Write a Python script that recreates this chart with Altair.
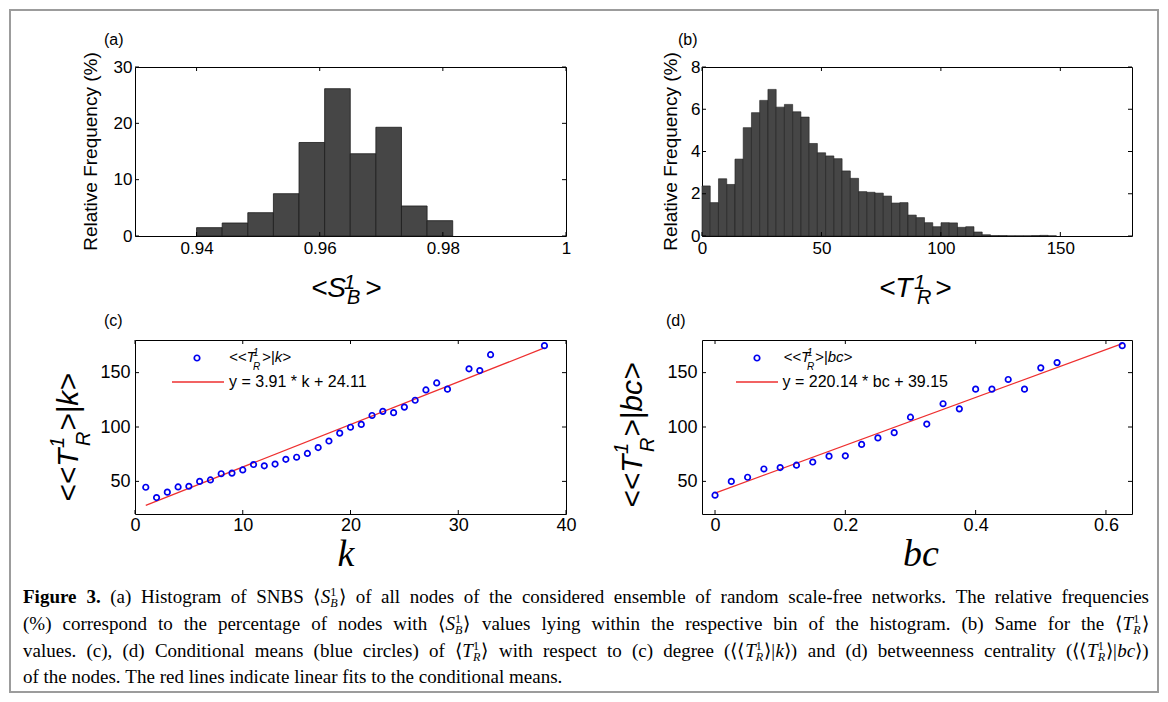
import altair as alt
import pandas as pd

# ---------------- data ----------------
# (a) histogram of <S_B^1>
sb_bin_left = [0.94000, 0.94416, 0.94832, 0.95248, 0.95664, 0.96080, 0.96496, 0.96912, 0.97328, 0.97744]
sb_bin_width = 0.00416
sb_freq = [1.48, 2.31, 4.14, 7.51, 16.6, 26.15, 14.6, 19.3, 5.33, 2.72]

# (b) histogram of <T_R^1>
tr_bin_width = 3.45
tr_freq = [2.37, 1.58, 2.71, 2.44, 3.64, 5.13, 5.84, 6.42, 6.94, 6.10, 6.23, 5.88, 5.63, 4.38,
           3.94, 3.79, 3.66, 3.08, 2.73, 2.10, 2.07, 2.03, 1.89, 1.56, 1.58, 0.99, 0.87, 0.63,
           0.44, 0.63, 0.62, 0.41, 0.44, 0.19, 0.06, 0.02, 0.02, 0.01, 0.01, 0.01, 0.02, 0.03, 0.01]

# (c) conditional means vs degree k
k_vals = [1, 2, 3, 4, 5, 6, 7, 8, 9, 10, 11, 12, 13, 14, 15, 16, 17, 18, 19, 20, 21, 22, 23, 24,
          25, 26, 27, 28, 29, 31, 32, 33, 38]
k_means = [44.6, 35.1, 40.1, 44.9, 45.5, 50.0, 51.3, 57.0, 57.6, 60.5, 65.5, 64.3, 65.9, 70.3,
           72.2, 75.7, 81.1, 87.1, 94.4, 99.8, 102.4, 110.6, 114.4, 113.2, 118.3, 124.6, 134.1,
           140.5, 134.8, 153.5, 151.9, 166.5, 174.8]
k_fit_x = [1, 38]
k_fit_y = [28.0, 172.7]

# (d) conditional means vs betweenness centrality bc
bc_vals = [0, 0.025, 0.05, 0.075, 0.1, 0.125, 0.15, 0.175, 0.2, 0.225, 0.25, 0.275, 0.3, 0.325,
           0.35, 0.375, 0.4, 0.425, 0.45, 0.475, 0.5, 0.525, 0.625]
bc_means = [37.3, 50.0, 53.8, 61.4, 62.7, 64.9, 67.8, 73.2, 73.5, 84.0, 90.0, 94.8, 109.0, 102.7,
            121.4, 116.7, 134.8, 134.8, 143.7, 134.8, 154.4, 159.2, 174.8]
bc_fit_x = [0, 0.625]
bc_fit_y = [39.15, 176.74]

a_xticks = [0.94, 0.96, 0.98, 1.0]
a_yticks = [0, 10, 20, 30]
b_xticks = [0, 50, 100, 150]
b_yticks = [0, 2, 4, 6, 8]
c_xticks = [0, 10, 20, 30, 40]
c_yticks = [50, 100, 150]
d_xticks = [0, 0.2, 0.4, 0.6]
d_yticks = [50, 100, 150]

# ---------------- helpers ----------------
SANS = "Liberation Sans"
SERIF = "Liberation Serif"
BAR = "#464646"
BLUE = "#0000f0"
RED = "#ee2f2f"
DUMMY = pd.DataFrame({"d": [0]})


def T(s, x, y, fs, style="normal", angle=0, align="left", baseline="alphabetic",
      font=SANS, weight="normal"):
    kw = dict(text=s, fontSize=fs, fontStyle=style, font=font, align=align,
              baseline=baseline, color="black", fontWeight=weight)
    if angle:
        kw["angle"] = angle
    return alt.Chart(DUMMY).mark_text(**kw).encode(x=alt.value(x), y=alt.value(y))


def axis(vals, fmt, fs, pad):
    return alt.Axis(values=vals, format=fmt, title=None, ticks=False, domain=False, grid=False,
                    labelFont=SANS, labelFontSize=fs, labelColor="black", labelPadding=pad,
                    labelFlush=False, labelOverlap=False)


def tick_layers(X, Y, xt, yt, xname, yname, w, h, L=4):
    dfx = pd.DataFrame({xname: xt})
    dfy = pd.DataFrame({yname: yt})
    r = dict(color="black", strokeWidth=1)
    return [
        alt.Chart(dfx).mark_rule(**r).encode(x=X, y=alt.value(h), y2=alt.value(h - L)),
        alt.Chart(dfx).mark_rule(**r).encode(x=X, y=alt.value(0), y2=alt.value(L)),
        alt.Chart(dfy).mark_rule(**r).encode(y=Y, x=alt.value(0), x2=alt.value(L)),
        alt.Chart(dfy).mark_rule(**r).encode(y=Y, x=alt.value(w), x2=alt.value(w - L)),
    ]


def circle_mark():
    return dict(shape="circle", filled=False, size=30, strokeWidth=1.7, color=BLUE, opacity=1)


# ---------------- panel (a) ----------------
WA, HA = 431, 169
dfa = pd.DataFrame({"lo": sb_bin_left,
                    "hi": [v + sb_bin_width for v in sb_bin_left],
                    "f": sb_freq})
xs_a = alt.Scale(domain=[0.93, 1.0], nice=False, zero=False)
ys_a = alt.Scale(domain=[0, 30], nice=False)
Xa = alt.X("lo:Q", scale=xs_a, axis=axis(a_xticks, "~g", 17, 4))
Ya = alt.Y("f:Q", scale=ys_a, axis=axis(a_yticks, "d", 17, 3))
bars_a = alt.Chart(dfa).mark_rect(fill=BAR, stroke="#1c1c1c", strokeWidth=0.8).encode(
    x=Xa, x2="hi:Q", y=Ya, y2=alt.datum(0))
panel_a = alt.layer(
    bars_a,
    *tick_layers(Xa, Ya, a_xticks, a_yticks, "lo", "f", WA, HA),
    T("(a)", -31, -22, 16),
    T("Relative Frequency (%)", -38, HA / 2, 19, angle=270, align="center"),
    T("<S", 176, 230, 28, "italic"),
    T("1", 209, 222, 20, "italic"),
    T("B", 212, 237, 20, "italic"),
    T(">", 230, 230, 28, "italic"),
).properties(width=WA, height=HA)

# ---------------- panel (b) ----------------
WB, HB = 430, 169
dfb = pd.DataFrame({"lo": [i * tr_bin_width for i in range(len(tr_freq))],
                    "hi": [(i + 1) * tr_bin_width for i in range(len(tr_freq))],
                    "f": tr_freq})
xs_b = alt.Scale(domain=[0, 180], nice=False, zero=False)
ys_b = alt.Scale(domain=[0, 8], nice=False)
Xb = alt.X("lo:Q", scale=xs_b, axis=axis(b_xticks, "d", 17, 4))
Yb = alt.Y("f:Q", scale=ys_b, axis=axis(b_yticks, "d", 17, 2))
bars_b = alt.Chart(dfb).mark_rect(fill=BAR, stroke="#1c1c1c", strokeWidth=0.6).encode(
    x=Xb, x2="hi:Q", y=Yb, y2=alt.datum(0))
panel_b = alt.layer(
    bars_b,
    *tick_layers(Xb, Yb, b_xticks, b_yticks, "lo", "f", WB, HB),
    T("(b)", -24, -22, 16),
    T("Relative Frequency (%)", -25, HB / 2, 19, angle=270, align="center"),
    T("<T", 177, 230, 28, "italic"),
    T("1", 212, 222, 20, "italic"),
    T("R", 215, 237, 20, "italic"),
    T(">", 233, 230, 28, "italic"),
).properties(width=WB, height=HB)

# ---------------- panel (c) ----------------
WC, HC = 431, 174
dfc = pd.DataFrame({"k": k_vals, "m": k_means})
dfc_fit = pd.DataFrame({"k": k_fit_x, "m": k_fit_y})
xs_c = alt.Scale(domain=[0, 40], nice=False, zero=False)
ys_c = alt.Scale(domain=[20, 180], nice=False, zero=False)
Xc = alt.X("k:Q", scale=xs_c, axis=axis(c_xticks, "d", 18, 2))
Yc = alt.Y("m:Q", scale=ys_c, axis=axis(c_yticks, "d", 18, 5))
pts_c = alt.Chart(dfc).mark_point(**circle_mark()).encode(x=Xc, y=Yc)
fit_c = alt.Chart(dfc_fit).mark_line(color=RED, strokeWidth=1.3).encode(x=Xc, y=Yc)
panel_c = alt.layer(
    fit_c, pts_c,
    *tick_layers(Xc, Yc, c_xticks, c_yticks, "k", "m", WC, HC),
    T("(c)", -31, -14, 16),
    T("<<T", -57, 162, 30, "italic", angle=270),
    T("1", -71, 108, 20, "italic", angle=270),
    T("R", -45, 106, 20, "italic", angle=270),
    T(">|k>", -57, 91, 30, "italic", angle=270),
    T("k", 211, 226, 38, "italic", align="center", font=SERIF),
    alt.Chart(DUMMY).mark_point(**circle_mark()).encode(x=alt.value(62), y=alt.value(18)),
    alt.Chart(DUMMY).mark_rule(color=RED, strokeWidth=1.3).encode(
        x=alt.value(37), x2=alt.value(89), y=alt.value(42)),
    T("<<T", 94, 22, 15, "italic"),
    T("1", 118, 16, 10, "italic"),
    T("R", 118, 30, 10, "italic"),
    T(">|k>", 127, 22, 15, "italic"),
    T("y = 3.91 * k + 24.11", 94, 42, 16, baseline="middle"),
).properties(width=WC, height=HC)

# ---------------- panel (d) ----------------
WD, HD = 430, 174
dfd = pd.DataFrame({"bc": bc_vals, "m": bc_means})
dfd_fit = pd.DataFrame({"bc": bc_fit_x, "m": bc_fit_y})
xs_d = alt.Scale(domain=[-0.02, 0.64], nice=False, zero=False)
ys_d = alt.Scale(domain=[20, 180], nice=False, zero=False)
Xd = alt.X("bc:Q", scale=xs_d, axis=axis(d_xticks, "~g", 18, 2))
Yd = alt.Y("m:Q", scale=ys_d, axis=axis(d_yticks, "d", 18, 5))
pts_d = alt.Chart(dfd).mark_point(**circle_mark()).encode(x=Xd, y=Yd)
fit_d = alt.Chart(dfd_fit).mark_line(color=RED, strokeWidth=1.3).encode(x=Xd, y=Yd)
panel_d = alt.layer(
    fit_d, pts_d,
    *tick_layers(Xd, Yd, d_xticks, d_yticks, "bc", "m", WD, HD),
    T("(d)", -36, -14, 16),
    T("<<T", -60, 168, 30, "italic", angle=270),
    T("1", -74, 114, 20, "italic", angle=270),
    T("R", -48, 112, 20, "italic", angle=270),
    T(">|bc>", -60, 97, 30, "italic", angle=270),
    T("bc", 219, 226, 38, "italic", align="center", font=SERIF),
    alt.Chart(DUMMY).mark_point(**circle_mark()).encode(x=alt.value(55), y=alt.value(18)),
    alt.Chart(DUMMY).mark_rule(color=RED, strokeWidth=1.3).encode(
        x=alt.value(34), x2=alt.value(76), y=alt.value(42)),
    T("<<T", 81.5, 22, 15, "italic"),
    T("1", 105, 16, 10, "italic"),
    T("R", 105, 30, 10, "italic"),
    T(">|bc>", 113, 22, 15, "italic"),
    T("y = 220.14 * bc + 39.15", 80.5, 42, 16, baseline="middle"),
).properties(width=WD, height=HD)

# ---------------- caption ----------------
_low = dict(zip(" abcdefghijklmnopqrstuvwxyz",
                [250, 444, 500, 444, 500, 444, 333, 500, 500, 278, 278, 500, 278, 778, 500, 500,
                 500, 500, 333, 389, 278, 500, 500, 722, 500, 500, 444]))
_up = dict(zip("ABCDEFGHIJKLMNOPQRSTUVWXYZ",
               [722, 667, 667, 722, 611, 556, 722, 722, 333, 389, 722, 611, 889, 722, 722, 556,
                722, 667, 556, 611, 722, 722, 944, 722, 722, 611]))
TNR = {**_low, **_up, **{d: 500 for d in "0123456789"},
       ".": 250, ",": 250, "(": 333, ")": 333, "%": 833, "-": 333, ":": 278, "|": 200,
       "\u27e8": 390, "\u27e9": 390}
TNR_B = {**TNR, "F": 611, "u": 556, "r": 444, "e": 444}
TNR_I = {**TNR, "S": 500, "T": 556, "B": 611, "R": 611, "k": 444}


def tw(s, style):
    tab = TNR_B if style == "b" else TNR_I if style == "i" else TNR
    return sum(tab.get(ch, 500) for ch in s) / 1000.0


LB, RB = "\u27e8", "\u27e9"
cap_lines = [
    [("Figure 3.", "b"), (" (a) Histogram of SNBS ", "n"), (LB, "n"), ("S", "i"), (("1", "B"), "ss"),
     (RB, "n"), (" of all nodes of the considered ensemble of random scale-free networks. "
                 "The relative frequencies", "n")],
    [("(%) correspond to the percentage of nodes with ", "n"), (LB, "n"), ("S", "i"),
     (("1", "B"), "ss"), (RB, "n"),
     (" values lying within the respective bin of the histogram. (b) Same for the ", "n"),
     (LB, "n"), ("T", "i"), (("1", "R"), "ss"), (RB, "n")],
    [("values. (c), (d) Conditional means (blue circles) of ", "n"), (LB, "n"), ("T", "i"),
     (("1", "R"), "ss"), (RB, "n"), (" with respect to (c) degree (", "n"), (LB + LB, "n"),
     ("T", "i"), (("1", "R"), "ss"), (RB + "|", "n"), ("k", "i"),
     (RB + ") and (d) betweenness centrality (", "n"), (LB + LB, "n"), ("T", "i"),
     (("1", "R"), "ss"), (RB + "|", "n"), ("bc", "i"), (RB + ")", "n")],
    [("of the nodes. The red lines indicate linear fits to the conditional means.", "n")],
]
CAP_FS = 19.0
CAP_X0, CAP_X1 = 22, 1148
cap_base = [602, 629, 656, 682]
cap_just = [True, True, True, False]
CAP_OX, CAP_OY = 134, 617   # page position of caption view origin

rows = []
for line, by, just in zip(cap_lines, cap_base, cap_just):
    toks = []
    for seg, st in line:
        if st == "ss":
            toks.append(("ss", seg, st))
            continue
        parts = seg.split(" ")
        for i, p in enumerate(parts):
            if i > 0:
                toks.append(("sp", " ", st))
            if p:
                toks.append(("w", p, st))
    small = CAP_FS * 0.64

    def adv(tok):
        kind, s, st = tok
        if kind == "ss":
            return max(tw(s[0], "n"), tw(s[1], "i")) * small + 1.0
        return tw(s, st) * CAP_FS

    nsp = sum(1 for t in toks if t[0] == "sp")
    nat = sum(adv(t) for t in toks if t[0] != "sp")
    sp_w = (CAP_X1 - CAP_X0 - nat) / nsp if just else 0.25 * CAP_FS
    x = CAP_X0
    for kind, s, st in toks:
        if kind == "sp":
            x += sp_w
            continue
        if kind == "ss":
            rows.append(dict(t=s[0], x=x - CAP_OX, y=by - 0.38 * CAP_FS - CAP_OY, fs=small, st="n"))
            rows.append(dict(t=s[1], x=x - CAP_OX, y=by + 0.22 * CAP_FS - CAP_OY, fs=small, st="i"))
        else:
            rows.append(dict(t=s, x=x - CAP_OX, y=by - CAP_OY, fs=CAP_FS, st=st))
        x += adv((kind, s, st))
cap_df = pd.DataFrame(rows)


def cap_layer(st, style, weight):
    d = cap_df[cap_df["st"] == st]
    return alt.Chart(d).mark_text(align="left", baseline="alphabetic", font=SERIF,
                                  fontStyle=style, fontWeight=weight, color="black").encode(
        x=alt.X("x:Q", scale=None, axis=None),
        y=alt.Y("y:Q", scale=None, axis=None),
        size=alt.Size("fs:Q", scale=None, legend=None),
        text="t:N")


border = alt.Chart(DUMMY).mark_rect(fill="transparent", stroke="#9c9c9c", strokeWidth=2).encode(
    x=alt.value(9 - CAP_OX), x2=alt.value(1157 - CAP_OX),
    y=alt.value(9 - CAP_OY), y2=alt.value(691 - CAP_OY))

caption = alt.layer(
    border,
    cap_layer("n", "normal", "normal"),
    cap_layer("i", "italic", "normal"),
    cap_layer("b", "normal", "bold"),
).properties(width=WA, height=40, view=alt.ViewBackground(stroke="transparent"))

chart = alt.concat(
    panel_a, panel_b, panel_c, panel_d, caption,
    columns=2, spacing=alt.RowColnumber(row=104, column=136), bounds="flush",
).properties(padding=0, background="white").configure_view(stroke="black", strokeWidth=1)

chart.save("out.html", embed_options={"renderer": "svg", "actions": False})
